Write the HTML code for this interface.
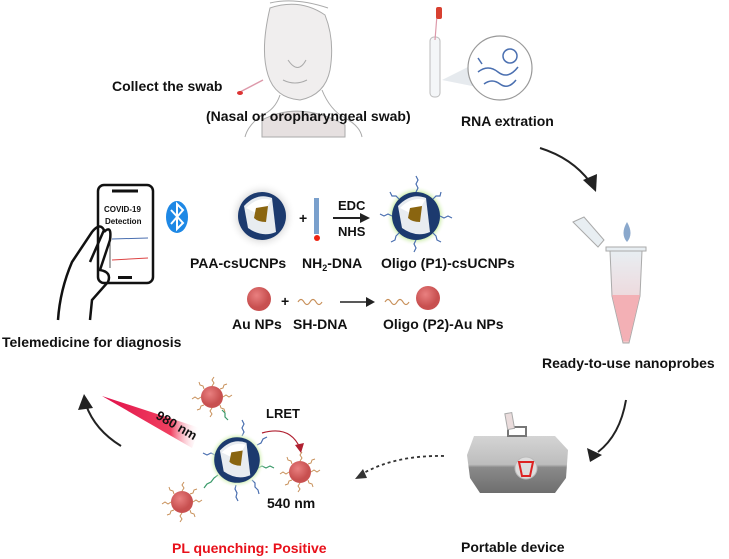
<!DOCTYPE html>
<html><head><meta charset="utf-8"><style>
html,body{margin:0;padding:0;background:#fff;width:729px;height:559px;overflow:hidden}
text{font-family:"Liberation Sans",sans-serif;font-weight:bold;fill:#111}
</style></head><body>
<svg width="729" height="559" viewBox="0 0 729 559" xmlns="http://www.w3.org/2000/svg">
<defs>
<radialGradient id="halo"><stop offset="0.6" stop-color="#ccc"/><stop offset="1" stop-color="#fff" stop-opacity="0"/></radialGradient>
<radialGradient id="green"><stop offset="0.75" stop-color="#b9e68a"/><stop offset="1" stop-color="#fff" stop-opacity="0"/></radialGradient>
<radialGradient id="au" cx="0.4" cy="0.35"><stop offset="0" stop-color="#e98080"/><stop offset="1" stop-color="#c85050"/></radialGradient>
<linearGradient id="beam" x1="0" y1="0" x2="1" y2="0"><stop offset="0" stop-color="#e0104a"/><stop offset="0.7" stop-color="#f04060"/><stop offset="1" stop-color="#fff" stop-opacity="0"/></linearGradient>
<linearGradient id="tube" x1="0" y1="0" x2="0" y2="1"><stop offset="0" stop-color="#e8eef2"/><stop offset="1" stop-color="#f3c5c8"/></linearGradient>
<linearGradient id="dev" x1="0" y1="0" x2="0" y2="1"><stop offset="0" stop-color="#d4d4d4"/><stop offset="0.5" stop-color="#bdbdbd"/><stop offset="0.55" stop-color="#8a8a8a"/><stop offset="1" stop-color="#6e6e6e"/></linearGradient>
<g id="core">
 <circle r="24" fill="#1c3a6e"/>
 <path d="M-18,-10 Q-5,-24 10,-18 L14,16 Q0,22 -14,12 Z" fill="#e8ecf0"/>
 <path d="M-16,-8 Q-4,-20 9,-16 L0,0 Z" fill="#fff"/>
 <path d="M-6,-8 L6,-10 L4,6 Q-4,6 -8,2 Z" fill="#8a6510"/>
</g>
<g id="aunp">
 <circle r="11" fill="url(#au)"/>
 <g fill="none" stroke="#c8905a" stroke-width="1">
 <path d="M0,-11 l2,-3 -2,-3 2,-3"/><path d="M0,11 l-2,3 2,3 -2,3"/>
 <path d="M-11,0 l-3,2 -3,-2 -3,2"/><path d="M11,0 l3,-2 3,2 3,-2"/>
 <path d="M8,-8 l3,-1 1,-3 3,-1"/><path d="M-8,8 l-3,1 -1,3 -3,1"/>
 <path d="M-8,-8 l-1,-3 -3,-1 -1,-3"/><path d="M8,8 l1,3 3,1 1,3"/>
 </g>
</g>
</defs>

<!-- face sketch -->
<g fill="none" stroke="#aaa" stroke-width="1">
 <path d="M270,8 Q300,-2 325,15 Q335,40 330,70 Q325,95 300,100 Q275,98 268,75 Q260,50 270,8Z" fill="#f0eeee"/>
 <path d="M270,3 Q295,-3 328,8" />
 <path d="M280,95 Q275,110 262,115 Q248,125 245,137"/>
 <path d="M322,90 Q330,110 345,118 Q360,126 362,137"/>
 <path d="M262,120 Q300,100 345,125 L345,137 L262,137Z" fill="#e6e0e0"/>
 <path d="M288,60 Q298,75 306,60 M283,80 Q295,86 307,80" />
</g>
<line x1="240" y1="92" x2="263" y2="80" stroke="#d9a" stroke-width="1.5"/>
<ellipse cx="240" cy="93" rx="3" ry="2" fill="#d33"/>
<!-- swab tube -->
<rect x="430" y="37" width="10" height="60" rx="4" fill="#f4f6f8" stroke="#bbb"/>
<line x1="437" y1="15" x2="435" y2="40" stroke="#d9a" stroke-width="1.2"/>
<rect x="436" y="7" width="6" height="12" rx="2" fill="#d84030"/>
<path d="M442,80 L478,62 L482,88Z" fill="#e6eaee"/>
<circle cx="500" cy="68" r="32" fill="#fff" stroke="#999" stroke-width="1.2"/>
<g fill="none" stroke="#4a6fb0" stroke-width="1.5"><path d="M478,72 q10,-8 20,0 t20,-5"/><path d="M484,84 q8,-6 16,0 t16,-4"/><circle cx="510" cy="56" r="7"/><path d="M478,58 l4,6"/></g>
<text x="112" y="91" font-size="14">Collect the swab</text>
<text x="206" y="121" font-size="14">(Nasal or oropharyngeal swab)</text>
<text x="461" y="126" font-size="14">RNA extration</text>
<!-- arrow to tube -->
<path d="M540,148 Q572,158 590,182" fill="none" stroke="#222" stroke-width="2"/>
<path d="M583,180 L596,192 L597,174Z" fill="#222"/>

<!-- phone -->
<rect x="98" y="185" width="55" height="98" rx="6" fill="#fff" stroke="#111" stroke-width="2.5"/>
<line x1="112" y1="191" x2="138" y2="191" stroke="#111" stroke-width="3"/>
<rect x="118" y="276" width="14" height="3" fill="#111"/>
<text x="104" y="212" font-size="8" font-weight="normal">COVID-19</text>
<text x="105" y="224" font-size="8" font-weight="normal">Detection</text>
<g stroke-width="1"><line x1="112" y1="239" x2="148" y2="238" stroke="#4a6fb0"/><line x1="112" y1="260" x2="148" y2="258" stroke="#d44"/><line x1="110" y1="232" x2="110" y2="268" stroke="#555"/></g>
<path d="M58,320 Q60,290 72,262 L92,232 Q100,222 104,230 L90,262 M104,232 Q112,224 110,240 L100,270 Q112,272 108,282 L92,300 L90,320" fill="none" stroke="#111" stroke-width="2.5"/>
<!-- bluetooth -->
<ellipse cx="177" cy="217" rx="11" ry="16" fill="#1e88e5"/>
<path d="M171,210 L183,223 L177,229 L177,204 L183,210 L171,224" fill="none" stroke="#fff" stroke-width="2"/>
<text x="2" y="347" font-size="14">Telemedicine for diagnosis</text>

<!-- PAA csUCNP -->
<circle cx="262" cy="216" r="34" fill="url(#halo)"/>
<use href="#core" x="262" y="216"/>
<text x="299" y="223" font-size="14">+</text>
<rect x="314" y="198" width="5" height="36" fill="#7aa0cc"/>
<circle cx="317" cy="238" r="3" fill="#e21"/>
<text x="338" y="210" font-size="13">EDC</text>
<line x1="333" y1="218" x2="362" y2="218" stroke="#222" stroke-width="2"/>
<path d="M360,213 L370,218 L360,223Z" fill="#222"/>
<text x="338" y="236" font-size="13">NHS</text>
<!-- Oligo P1 -->
<circle cx="416" cy="216" r="30" fill="url(#green)"/>
<use href="#core" x="416" y="216"/>
<g fill="none" stroke="#4a6fb0" stroke-width="1.2">
<path d="M416,192 l2,-4 -2,-4 2,-4 -2,-4"/><path d="M416,240 l-2,4 2,4 -2,4"/><path d="M392,216 l-4,-2 -4,2 -4,-2"/><path d="M440,216 l4,2 4,-2 4,2"/>
<path d="M399,199 l-3,-3 -4,0 -2,-4"/><path d="M433,199 l3,-3 4,0 1,-4"/><path d="M399,233 l-3,3 -1,4 -4,2"/><path d="M433,233 l3,3 1,4 4,2"/>
</g>
<text x="190" y="268" font-size="14">PAA-csUCNPs</text>
<text x="302" y="268" font-size="14">NH<tspan font-size="9" dy="3">2</tspan><tspan dy="-3">-DNA</tspan></text>
<text x="381" y="268" font-size="14">Oligo (P1)-csUCNPs</text>
<!-- Au row -->
<circle cx="259" cy="299" r="12" fill="url(#au)"/>
<text x="281" y="306" font-size="14">+</text>
<path d="M298,302 q3,-5 6,0 t6,0 t6,0 t6,0" fill="none" stroke="#c8905a" stroke-width="1.2"/>
<line x1="340" y1="302" x2="368" y2="302" stroke="#222" stroke-width="1.5"/>
<path d="M366,297 L375,302 L366,307Z" fill="#222"/>
<path d="M385,302 q3,-5 6,0 t6,0 t6,0 t6,0" fill="none" stroke="#c8905a" stroke-width="1.2"/>
<circle cx="428" cy="298" r="12" fill="url(#au)"/>
<text x="232" y="329" font-size="14">Au NPs</text>
<text x="293" y="329" font-size="14">SH-DNA</text>
<text x="383" y="329" font-size="14">Oligo (P2)-Au NPs</text>

<!-- eppendorf -->
<path d="M573,222 L584,217 L604,240 L598,247Z" fill="#e8eef2" stroke="#aaa"/>
<path d="M627,222 Q620,234 627,242 Q634,234 627,222Z" fill="#8aa8cc"/>
<rect x="606" y="247" width="40" height="4" fill="#e8eef2" stroke="#aaa"/>
<path d="M610,251 L642,251 L640,296 L629,343 L623,343 L612,296Z" fill="url(#tube)" stroke="#aaa"/>
<path d="M612,295 L640,295 L629,341 L623,341Z" fill="#f3b0b5"/>
<text x="542" y="368" font-size="14">Ready-to-use nanoprobes</text>
<!-- arrow down to device -->
<path d="M626,400 Q620,435 598,452" fill="none" stroke="#222" stroke-width="2"/>
<path d="M587,448 L590,462 L602,455Z" fill="#222"/>
<!-- device -->
<path d="M467,455 L474,436 L555,436 L568,450 L566,478 L555,493 L480,493 L470,478Z" fill="url(#dev)"/>
<rect x="508" y="427" width="18" height="9" fill="none" stroke="#777" stroke-width="2"/>
<rect x="506" y="413" width="7" height="16" fill="#eadcdc" stroke="#aaa" transform="rotate(-10 510 420)"/>
<circle cx="526" cy="468" r="11" fill="#ddd" stroke="#bbb"/>
<path d="M519,462 L533,462 L530,476 L522,476Z" fill="none" stroke="#d22" stroke-width="2"/>
<text x="461" y="552" font-size="14">Portable device</text>
<!-- dashed arrow -->
<path d="M444,456 Q395,455 362,474" fill="none" stroke="#333" stroke-width="1.8" stroke-dasharray="3,3"/>
<path d="M355,479 L363,469 L367,478Z" fill="#333"/>

<!-- bottom scene -->
<path d="M121,446 Q95,430 86,405" fill="none" stroke="#222" stroke-width="2"/>
<path d="M78,410 L84,394 L93,408Z" fill="#222"/>
<path d="M102,396 L200,428 L192,448Z" fill="url(#beam)"/>
<text x="155" y="418" font-size="13" transform="rotate(30 155 418)">980 nm</text>
<use href="#aunp" x="212" y="397"/>
<use href="#aunp" x="300" y="472"/>
<use href="#aunp" x="182" y="502"/>
<g fill="none" stroke-width="1.2">
<path d="M222,410 l3,3 0,4 3,3" stroke="#3a9a6a"/><path d="M258,468 l4,-2 4,2 4,-2 4,2" stroke="#3a9a6a"/><path d="M218,475 l-4,3 -3,4 -4,2 -3,4" stroke="#3a9a6a"/>
<path d="M242,436 l2,-4 -2,-4 2,-4 -2,-4" stroke="#4a6fb0"/><path d="M257,445 l4,-2 2,-4 4,-2" stroke="#4a6fb0"/><path d="M215,455 l-4,-2 -4,2 -4,-2" stroke="#4a6fb0"/><path d="M236,485 l-1,4 2,4 -1,4 2,4" stroke="#4a6fb0"/><path d="M252,480 l3,3 0,4 3,3 1,4" stroke="#4a6fb0"/>
</g>
<circle cx="237" cy="460" r="28" fill="url(#green)"/>
<g transform="translate(237 460) scale(0.95)"><use href="#core"/></g>
<text x="266" y="418" font-size="13">LRET</text>
<path d="M262,433 Q290,425 300,448" fill="none" stroke="#b02030" stroke-width="1.2"/>
<path d="M295,445 L301,453 L304,443Z" fill="#b02030"/>
<text x="267" y="508" font-size="14">540 nm</text>
<text x="172" y="553" font-size="14" style="fill:#e8101a">PL quenching: Positive</text>
</svg>
</body></html>
